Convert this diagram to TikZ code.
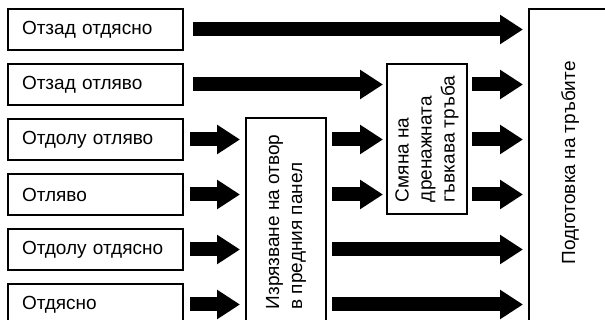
\documentclass[tikz,border=0pt]{standalone}
\usepackage{fontspec}
\setmainfont{Liberation Sans}
\usetikzlibrary{arrows.meta}
\begin{document}
\begin{tikzpicture}[x=1pt,y=-1pt,
  box/.style={draw, line width=1.2pt, outer sep=0pt, inner sep=0pt},
  lbox/.style={box, minimum width=175pt, minimum height=41pt, text width=147pt, align=left, font=\fontsize{19}{22}\selectfont},
  vbox/.style={box, rotate=90, minimum height=80pt, align=left, font=\fontsize{19}{23}\selectfont},
  vtext/.style={rotate=90, inner sep=0pt, font=\fontsize{19}{23}\selectfont},
  big/.style={line width=14pt, -{Triangle[length=23pt,width=28pt]}}
]
\useasboundingbox (0,0) rectangle (605,320);
\clip (0,0) rectangle (605,320);
% left boxes
\node[lbox] (l1) at (95.5,29.5) {Отзад отдясно};
\node[lbox] (l2) at (95.5,84.5) {Отзад отляво};
\node[lbox] (l3) at (95.5,139.5) {Отдолу отляво};
\node[lbox] (l4) at (95.5,194.5) {Отляво};
\node[lbox] (l5) at (95.5,249.5) {Отдолу отдясно};
\node[lbox] (l6) at (95.5,304.5) {Отдясно};
% middle boxes
\node[vbox, minimum width=208pt] (i) at (286,222) {Изрязване на отвор\\в предния панел};
\node[vbox, minimum width=150pt] (s) at (427,139) {Смяна на\\дренажната\\гъвкава тръба};
% right box
\node[box, minimum width=90pt, minimum height=340pt, anchor=north west] (p) at (529,9) {};
\node[vtext] (pt) at (570,163) {Подготовка на тръбите};
% arrows
\draw[big, shorten <=10pt, shorten >=6pt] (l1.east) -- (l1.east -| p.west);
\draw[big, shorten <=10pt, shorten >=4pt] (l2.east) -- (l2.east -| s.north);
\draw[big, shorten <=5pt, shorten >=6pt] (l2.east -| s.south) -- (l2.east -| p.west);
\foreach \k in {3,4,5,6}{
  \draw[big, shorten <=7pt, shorten >=6pt] (l\k.east) -- (l\k.east -| i.north);
}
\foreach \k in {3,4}{
  \draw[big, shorten <=6pt, shorten >=4pt] (l\k.east -| i.south) -- (l\k.east -| s.north);
  \draw[big, shorten <=5pt, shorten >=6pt] (l\k.east -| s.south) -- (l\k.east -| p.west);
}
\foreach \k in {5,6}{
  \draw[big, shorten <=6pt, shorten >=6pt] (l\k.east -| i.south) -- (l\k.east -| p.west);
}
\end{tikzpicture}
\end{document}
